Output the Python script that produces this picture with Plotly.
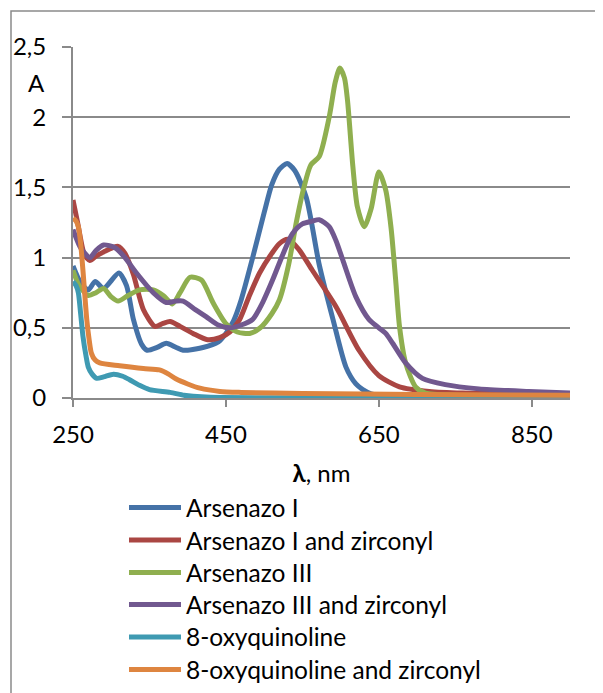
import plotly.graph_objects as go

series_names = ["Arsenazo I", "Arsenazo I and zirconyl", "Arsenazo III",
                "Arsenazo III and zirconyl", "8-oxyquinoline", "8-oxyquinoline and zirconyl"]

ars1_x = [250, 260, 270, 279, 290, 310, 320, 329, 340, 347, 360, 372, 385, 394, 420, 440, 450, 460, 470,
          485, 500, 510, 520, 530, 540, 555, 572, 590, 607, 620, 629, 640, 660, 700, 900]
ars1_y = [0.94, 0.82, 0.77, 0.83, 0.78, 0.89, 0.80, 0.56, 0.38, 0.34, 0.36, 0.39, 0.36, 0.34, 0.36, 0.40, 0.46,
          0.55, 0.70, 1.00, 1.32, 1.52, 1.63, 1.67, 1.62, 1.43, 0.95, 0.56, 0.22, 0.10, 0.06, 0.03, 0.015, 0.01, 0.005]

ars1zr_x = [250, 256, 265, 272, 280, 290, 309, 318, 329, 342, 357, 367, 377, 390, 407, 426, 442, 455, 468, 480,
            494, 510, 520, 531, 545, 563, 594, 624, 650, 677, 716, 760, 900]
ars1zr_y = [1.41, 1.25, 1.02, 0.98, 1.01, 1.04, 1.08, 1.03, 0.88, 0.63, 0.51, 0.53, 0.545, 0.51, 0.46, 0.415,
            0.43, 0.47, 0.56, 0.72, 0.89, 1.03, 1.10, 1.13, 1.06, 0.91, 0.65, 0.34, 0.16, 0.08, 0.047, 0.035, 0.025]

ars3_x = [250, 258, 270, 280, 290, 300, 309, 322, 337, 355, 368, 380, 390, 403, 418, 433, 450, 465, 481, 495,
          510, 520, 532, 542, 552, 561, 572, 585, 593, 599, 605, 609, 616, 622, 631, 640, 650, 659, 666, 672,
          677, 685, 698, 711, 750, 900]
ars3_y = [0.91, 0.80, 0.73, 0.75, 0.78, 0.72, 0.69, 0.73, 0.77, 0.77, 0.73, 0.67, 0.75, 0.86, 0.84, 0.68, 0.53,
          0.47, 0.46, 0.50, 0.60, 0.70, 0.95, 1.25, 1.50, 1.66, 1.72, 2.00, 2.25, 2.35, 2.28, 2.12, 1.65, 1.36,
          1.22, 1.35, 1.61, 1.48, 1.21, 0.84, 0.51, 0.25, 0.08, 0.035, 0.02, 0.015]

ars3zr_x = [250, 260, 272, 280, 290, 305, 318, 333, 355, 372, 384, 394, 410, 424, 440, 455, 470, 485, 498, 511,
            525, 537, 550, 563, 572, 585, 594, 603, 620, 637, 650, 659, 668, 685, 707, 737, 781, 846, 900]
ars3zr_y = [1.20, 1.07, 1.00, 1.05, 1.09, 1.07, 1.00, 0.89, 0.75, 0.68, 0.69, 0.69, 0.63, 0.58, 0.52, 0.50,
            0.52, 0.56, 0.68, 0.84, 1.03, 1.17, 1.24, 1.26, 1.27, 1.22, 1.12, 0.98, 0.72, 0.56, 0.50, 0.46, 0.39,
            0.25, 0.14, 0.095, 0.065, 0.047, 0.036]

oxq_x = [250, 254, 257, 260, 263, 267, 270, 275, 281, 290, 303, 315, 324, 337, 350, 377, 395, 407, 430, 900]
oxq_y = [0.83, 0.80, 0.75, 0.60, 0.44, 0.30, 0.22, 0.17, 0.14, 0.15, 0.17, 0.155, 0.13, 0.09, 0.06, 0.04, 0.02,
         0.012, 0.005, 0.002]

oxqzr_x = [250, 254, 257, 260, 263, 268, 271, 274, 279, 285, 311, 342, 363, 375, 385, 400, 416, 442, 470, 550,
           700, 900]
oxqzr_y = [1.28, 1.26, 1.22, 1.10, 0.91, 0.56, 0.42, 0.32, 0.27, 0.25, 0.23, 0.21, 0.20, 0.17, 0.135, 0.10,
           0.07, 0.047, 0.04, 0.032, 0.025, 0.02]

x_ticks = [250, 450, 650, 850]
y_ticks = [0, 0.5, 1, 1.5, 2, 2.5]

colors = ["#4572A7", "#AA4643", "#8FAF4F", "#71588F", "#3F9AB2", "#DE8540"]

data_x = [ars1_x, ars1zr_x, ars3_x, ars3zr_x, oxq_x, oxqzr_x]
data_y = [ars1_y, ars1zr_y, ars3_y, ars3zr_y, oxq_y, oxqzr_y]

FONT = "Lato"
OFF = 8  # page body margin
W, H = 603 - OFF, 693 - OFF
L, R, T, B = 73 - OFF, W - (570 - OFF), 47 - OFF, H - (398.3 - OFF)
pw, ph = W - L - R, H - T - B

def px2xp(px):
    return (px - OFF - L) / pw

def py2yp(py):
    return (H - B - (py - OFF)) / ph

fig = go.Figure()
for name, xs, ys, c in zip(series_names, data_x, data_y, colors):
    fig.add_trace(go.Scatter(x=xs, y=ys, mode="lines", name=name,
                             line=dict(color=c, width=5, shape="spline", smoothing=0.7),
                             showlegend=False))

# manual legend
leg_y = [508, 540.5, 573, 605, 637.5, 670]
shapes = []
annotations = []
for name, c, ly in zip(series_names, colors, leg_y):
    shapes.append(dict(type="line", xref="paper", yref="paper",
                       x0=px2xp(129), x1=px2xp(181), y0=py2yp(ly), y1=py2yp(ly),
                       line=dict(color=c, width=5)))
    annotations.append(dict(xref="paper", yref="paper", x=px2xp(184), y=py2yp(ly),
                            xanchor="left", yanchor="middle", showarrow=False, text=name,
                            font=dict(family=FONT, size=24.5, color="#000000")))

# outer border of chart area
shapes.append(dict(type="rect", xref="paper", yref="paper",
                   x0=px2xp(11), x1=px2xp(700), y0=py2yp(11), y1=py2yp(800),
                   line=dict(color="#8a8a8a", width=1.5), layer="below"))

annotations.append(dict(xref="paper", yref="paper", x=px2xp(47), y=py2yp(83),
                        xanchor="right", yanchor="middle", showarrow=False, text="A",
                        font=dict(family=FONT, size=24, color="#000000")))

fig.update_layout(
    width=W, height=H, autosize=False,
    margin=dict(l=L, r=R, t=T, b=B, pad=0, autoexpand=False),
    paper_bgcolor="white", plot_bgcolor="white",
    separators=", ",
    font=dict(family=FONT, size=24, color="#000000"),
    shapes=shapes, annotations=annotations,
    xaxis=dict(range=[250, 900], tickvals=x_ticks, ticktext=[str(v) for v in x_ticks],
               automargin=False,
               showgrid=False, zeroline=False, showline=True, linecolor="#8a8a8a", linewidth=2,
               ticks="outside", ticklen=7, tickwidth=1.5, tickcolor="#8a8a8a",
               tickfont=dict(family=FONT, size=24), ticklabelstandoff=7,
               title=dict(text="<b>λ</b>, nm", font=dict(family=FONT, size=24), standoff=18)),
    yaxis=dict(range=[0, 2.5], tickvals=y_ticks, showgrid=True, gridcolor="#8a8a8a", gridwidth=2,
               automargin=False,
               zeroline=False, showline=True, linecolor="#8a8a8a", linewidth=2,
               ticks="outside", ticklen=9, tickwidth=1.5, tickcolor="#8a8a8a",
               tickfont=dict(family=FONT, size=24), ticklabelstandoff=11),
)

fig.write_html("out.html")
